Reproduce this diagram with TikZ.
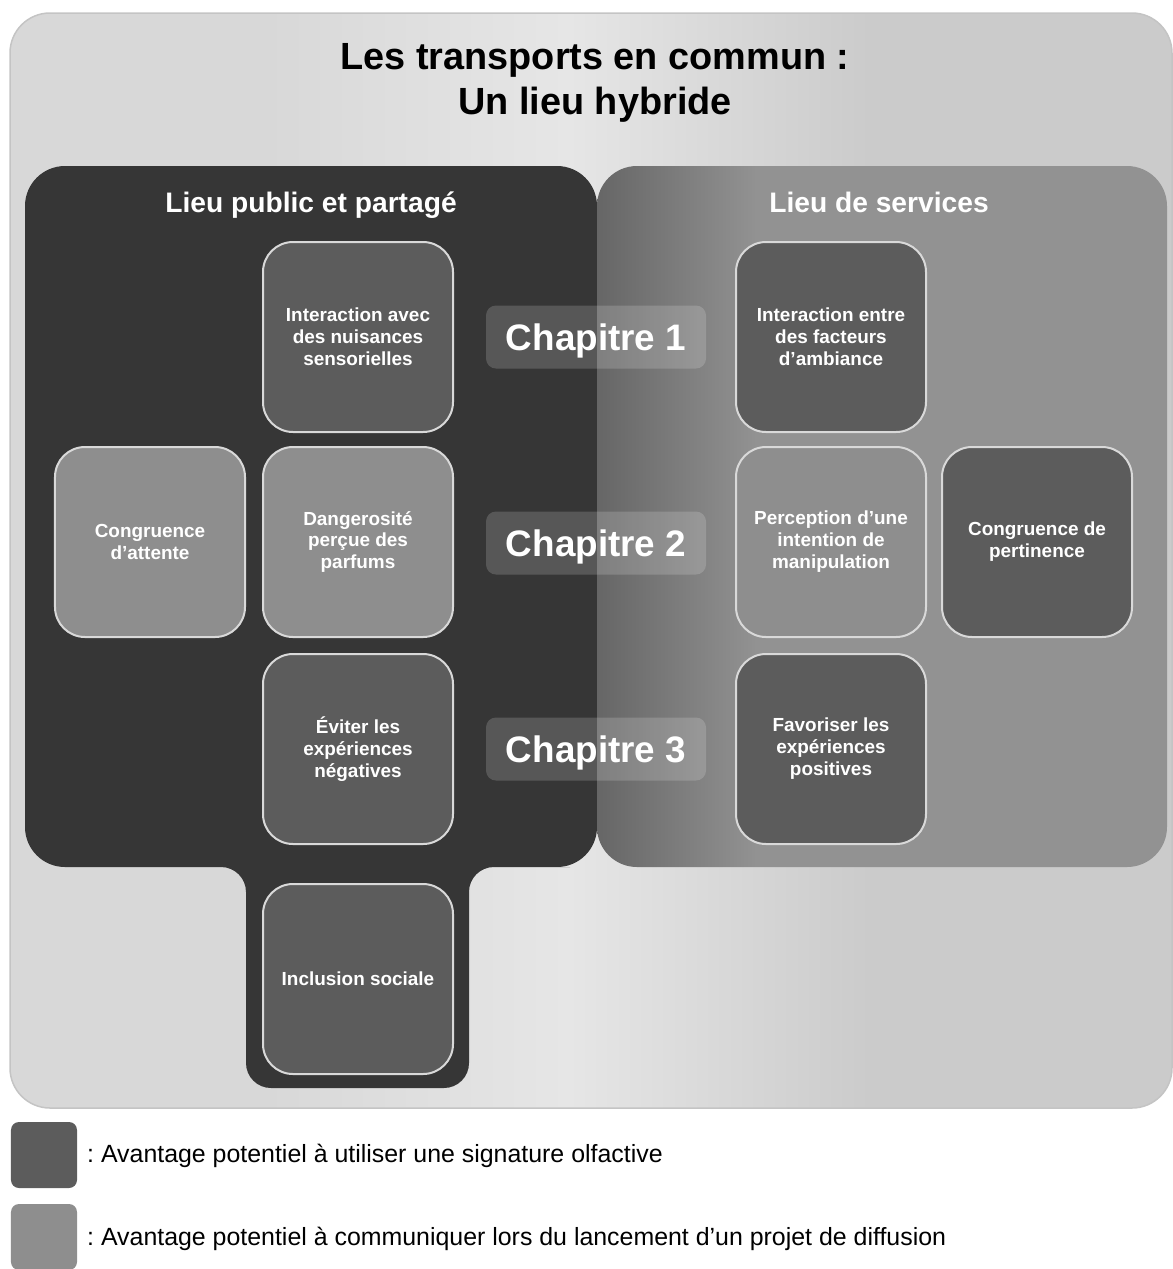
\documentclass[tikz,border=0pt]{standalone}
\usepackage{fontspec}
\setmainfont{Liberation Sans}

\definecolor{outL}{HTML}{D8D8D8}
\definecolor{outM}{HTML}{E6E6E6}
\definecolor{outR}{HTML}{CBCBCB}
\definecolor{outline}{HTML}{C4C4C4}
\definecolor{pubgray}{HTML}{363636}
\definecolor{servdark}{HTML}{666666}
\definecolor{servlight}{HTML}{929292}
\definecolor{darkbox}{HTML}{5C5C5C}
\definecolor{lightbox}{HTML}{8E8E8E}
\definecolor{boxline}{HTML}{D9D9D9}
\pgfdeclarehorizontalshading{outshade}{100bp}{color(0bp)=(outL); color(36bp)=(outL); color(49bp)=(outM); color(62bp)=(outR); color(100bp)=(outR)}
\pgfdeclarehorizontalshading{servshade}{100bp}{color(0bp)=(servdark); color(25bp)=(servdark); color(39bp)=(servlight); color(100bp)=(servlight)}

\begin{document}
\frenchspacing
\begin{tikzpicture}[x=1bp, y=-1bp]
    \tikzset{Box/.style = {draw=boxline, line width=2bp, rounded corners=30bp,
        minimum width=190bp, minimum height=190bp, align=center, text=white,
        font=\fontsize{19}{22}\selectfont\bfseries}}
    \tikzset{ChapLabel/.style = {fill=white, fill opacity=0.17, text opacity=1,
        rounded corners=10bp, minimum width=220bp, minimum height=63bp, text depth=0pt,
        text=white, font=\fontsize{37}{44}\selectfont\bfseries}}
    \tikzset{PanelTitle/.style = {text=white, font=\fontsize{28.3}{32}\selectfont\bfseries}}
    \tikzset{Key/.style = {rounded corners=8bp, minimum width=66bp, minimum height=66bp, inner sep=0}}
    \tikzset{KeyText/.style = {anchor=west, inner sep=0, font=\fontsize{25}{28}\selectfont}}

    \useasboundingbox (0,0) rectangle (1173,1269);

    \draw[draw=outline, line width=1.5bp, shading=outshade, rounded corners=40bp]
        (10,13) rectangle (1172,1108);

    % les deux lieux
    \fill[pubgray, rounded corners=40bp] (300,166) -- (597,166) -- (597,867) -- (530,867)
        [rounded corners=25bp] -- (469,867) -- (469,1088) -- (246,1088) -- (246,867) -- (150,867)
        [rounded corners=40bp] -- (25,867) -- (25,166) -- cycle;
    \shade[shading=servshade, rounded corners=40bp] (597,166) rectangle (1167,867);

    \node[font=\fontsize{38}{45}\selectfont\bfseries, align=center] (titre) at (595,83)
        {Les transports en commun :\\Un lieu hybride};
    \node[PanelTitle] (public) at (311,205) {Lieu public et partagé};
    \node[PanelTitle] (services) at (879,202) {Lieu de services};

    \node[Box, fill=darkbox] (nuisances) at (358,337) {Interaction avec\\des nuisances\\sensorielles};
    \node[Box, fill=lightbox] (attente) at (150,542) {Congruence\\d’attente};
    \node[Box, fill=lightbox] (danger) at (358,542) {Dangerosité\\perçue des\\parfums};
    \node[Box, fill=darkbox] (negatives) at (358,749) {Éviter les\\expériences\\négatives};
    \node[Box, fill=darkbox] (inclusion) at (358,979) {Inclusion sociale};

    \node[Box, fill=darkbox] (ambiance) at (831,337) {Interaction entre\\des facteurs\\d’ambiance};
    \node[Box, fill=lightbox] (manipulation) at (831,542) {Perception d’une\\intention de\\manipulation};
    \node[Box, fill=darkbox] (pertinence) at (1037,542) {Congruence de\\pertinence};
    \node[Box, fill=darkbox] (positives) at (831,749) {Favoriser les\\expériences\\positives};

    \node[ChapLabel] (chap1) at (596,337) {Chapitre 1};
    \node[ChapLabel] (chap2) at (596,543) {Chapitre 2};
    \node[ChapLabel] (chap3) at (596,749) {Chapitre 3};

    % legende
    \node[Key, fill=darkbox] (keydark) at (44,1155) {};
    \node[KeyText] (keydarktext) at (87,1156) {: Avantage potentiel à utiliser une signature olfactive};
    \node[Key, fill=lightbox] (keylight) at (44,1237) {};
    \node[KeyText] (keylighttext) at (87,1239) {: Avantage potentiel à communiquer lors du lancement d’un projet de diffusion};
\end{tikzpicture}
\end{document}
